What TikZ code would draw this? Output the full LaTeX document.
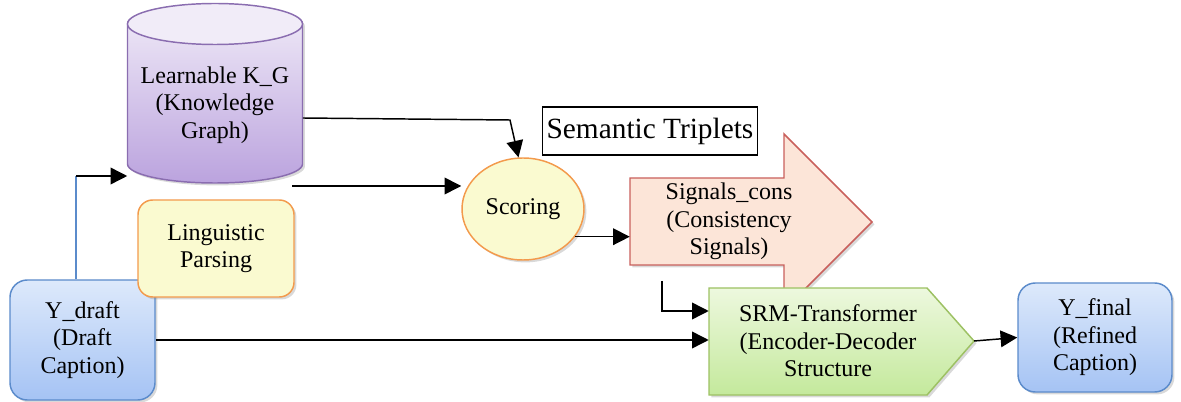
\documentclass[tikz,border=0pt]{standalone}
\usepackage{fontspec}
\setmainfont{Liberation Serif}
\usetikzlibrary{arrows.meta,calc,shadows,shapes.geometric}

\definecolor{capline}{HTML}{5B8BCB}
\definecolor{captop}{HTML}{DDE9FB}
\definecolor{capbot}{HTML}{A5C3F4}
\definecolor{kgline}{HTML}{8A6DB0}
\definecolor{kgtop}{HTML}{F1ECF8}
\definecolor{kgbot}{HTML}{BBA3DE}
\definecolor{yelfill}{HTML}{FAFAD0}
\definecolor{orline}{HTML}{F39A4C}
\definecolor{sigfill}{HTML}{FCE5D8}
\definecolor{sigline}{HTML}{C9605C}
\definecolor{srmline}{HTML}{9DC163}
\definecolor{srmtop}{HTML}{EDF8DE}
\definecolor{srmbot}{HTML}{C4E99C}

\begin{document}
\begin{tikzpicture}[x=0.75pt, y=-0.75pt,
  every node/.style={align=center, font=\fontsize{18}{20.6}\selectfont},
  arr/.style={-{Triangle[length=12.5pt,width=12.5pt]}, line width=1.1pt},
  shadow/.style={drop shadow={opacity=0.3, shadow xshift=1.8pt, shadow yshift=-1.8pt}},
  capbox/.style={draw=capline, line width=1.1pt, rounded corners=13pt, top color=captop,
    bottom color=capbot, shadow},
  yelbox/.style={draw=orline, line width=1.1pt, fill=yelfill, shadow}]
  \useasboundingbox (0,0) rectangle (1181,402);

  % knowledge graph cylinder
  \path[draw=kgline, line width=1.1pt, top color=kgtop, bottom color=kgbot, shadow]
    (127.5,24) -- (127.5,164) arc[start angle=180, end angle=0, x radius=87.5, y radius=19]
    -- (302.5,24) arc[start angle=0, end angle=-180, x radius=87.5, y radius=19] -- cycle;
  \path[draw=kgline, line width=1.1pt, fill=kgtop] (215,24) ellipse[x radius=87.5, y radius=20.5];
  \node[minimum width=131.25pt] (kg) at (215,105) {Learnable K\_G\\(Knowledge\\Graph)};

  \node[capbox, minimum width=108.75pt, minimum height=90pt] (ydraft) at (82.5,340) {Y\_draft\\(Draft\\Caption)};
  \node[yelbox, rounded corners=11pt, minimum width=117pt, minimum height=72.75pt] (parse) at (216,248.5) {Linguistic\\Parsing};
  \node[yelbox, ellipse, minimum width=91.5pt, minimum height=76.5pt] (scoring) at (523,209) {Scoring};
  \node[draw, line width=0.8pt, minimum width=161.25pt, minimum height=36pt,
    font=\fontsize{22}{24}\selectfont] (triplets) at (650,131) {Semantic Triplets};

  % consistency signals arrow
  \path[draw=sigline, line width=1.1pt, fill=sigfill, shadow]
    (630,178) -- (784,178) -- (784,134) -- (872,222) -- (784,310) -- (784,265) -- (630,265) -- cycle;
  \node[minimum width=148.5pt, minimum height=65pt] (signals) at (729,221.5) {Signals\_cons\\(Consistency\\Signals)};

  % refinement module
  \path[draw=srmline, line width=1.1pt, top color=srmtop, bottom color=srmbot, shadow]
    (709,288) -- (927,288) -- (974,341) -- (927,395) -- (709,395) -- cycle;
  \node[minimum width=178.5pt, minimum height=80.25pt] (srm) at (828,341) {SRM-Transformer\\(Encoder-Decoder\\Structure};
  \coordinate (srmtip) at (974,341);

  \node[capbox, minimum width=115.5pt, minimum height=81.75pt] (yfinal) at (1095,337.5) {Y\_final\\(Refined\\Caption)};

  % connectors
  \coordinate (bend) at (76,176);
  \coordinate (kgturn) at (510,120);
  \coordinate (kgbase) at (292,186);
  \coordinate (tick) at (662,281);
  \draw[draw=capline, line width=1.1pt] (bend |- ydraft.north) -- (bend);
  \draw[arr] (bend) -- (bend -| kg.west);
  \draw[arr] ($(kg.east)+(0,13)$) -- (kgturn) -- (scoring.95);
  \draw[arr] (kgbase) -- (kgbase -| scoring.west);
  \draw[arr] (scoring.-28) -- (scoring.-28 -| signals.west);
  \draw[arr] (tick) |- ($(srm.west)+(0,-30)$);
  \draw[arr] (ydraft.east) -- (ydraft.east -| srm.west);
  \draw[arr] (srmtip) -- (yfinal.west);
\end{tikzpicture}
\end{document}
